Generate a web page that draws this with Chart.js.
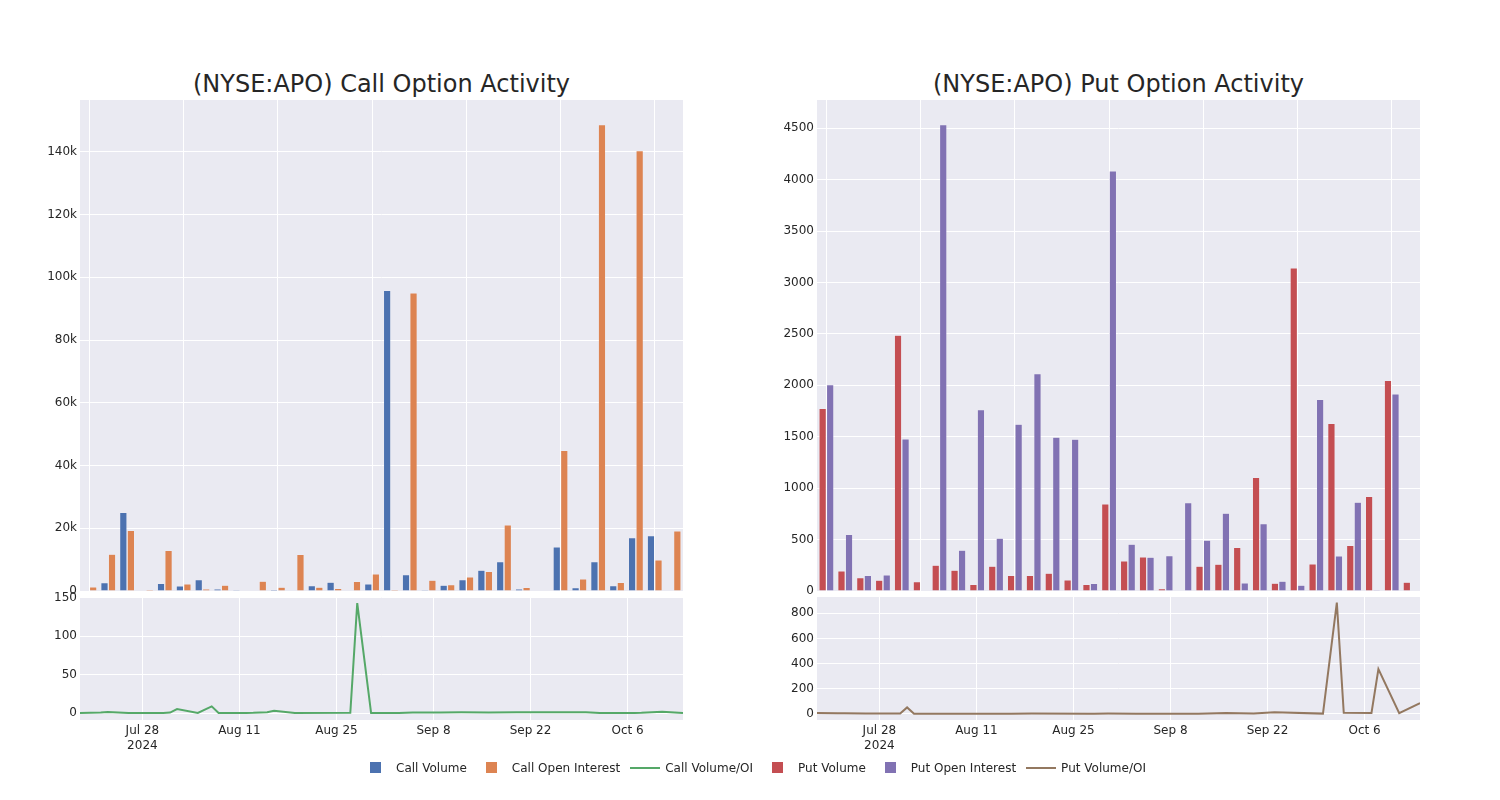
<!DOCTYPE html>
<html>
<head>
<meta charset="utf-8">
<title>(NYSE:APO) Option Activity</title>
<script src="https://cdn.jsdelivr.net/npm/chart.js@4.4.1/dist/chart.umd.min.js"></script>
<style>
  body { margin: 0; background: #fff; font-family: "DejaVu Sans", sans-serif; }
  #page { position: relative; width: 1500px; height: 800px; overflow: hidden; }
  canvas { position: absolute; }
  .title { position: absolute; top: 68px; width: 603px; text-align: center; font-size: 24px; line-height: 32px; color: #262626; }
  #legend { position: absolute; top: 759px; left: 356px; display: flex; font-size: 12px; color: #262626; line-height: 18px; }
  .item { display: flex; align-items: center; margin-right: 5px; }
  .sym { position: relative; width: 40px; height: 18px; }
  .sq { position: absolute; left: 14px; top: 3px; width: 11px; height: 11px; }
  .ln { position: absolute; left: 5px; top: 8px; width: 30px; height: 2px; }
</style>
</head>
<body>
<div id="page">
  <div class="title" style="left:80px">(NYSE:APO) Call Option Activity</div>
  <div class="title" style="left:817px">(NYSE:APO) Put Option Activity</div>
  <canvas id="callBars" width="700" height="519" style="left:0;top:86px"></canvas>
  <canvas id="callLine" width="700" height="177" style="left:0;top:583px"></canvas>
  <canvas id="putBars" width="700" height="519" style="left:737px;top:86px"></canvas>
  <canvas id="putLine" width="700" height="177" style="left:737px;top:583px"></canvas>
  <div id="legend"></div>
</div>
<script>
// Data
const dates = [
  '2024-07-19', '2024-07-22', '2024-07-23', '2024-07-26', '2024-07-31', '2024-08-01', '2024-08-02', '2024-08-05',
  '2024-08-07', '2024-08-08', '2024-08-12', '2024-08-13', '2024-08-15', '2024-08-16', '2024-08-19', '2024-08-27',
  '2024-08-28', '2024-08-30', '2024-09-03', '2024-09-05', '2024-09-09', '2024-09-12', '2024-09-16', '2024-09-20',
  '2024-09-23', '2024-09-30', '2024-10-02', '2024-10-03', '2024-10-07', '2024-10-08', '2024-10-11', '2024-10-14'
];

const callVolume = [100, 2600, 25000, 0, 2400, 1600, 3600, 600, 300, 0, 500, 200, 1700, 2800, 100, 2200,
  95800, 5200, 300, 1800, 3600, 6600, 9300, 600, 200, 14000, 1000, 9300, 1700, 17000, 17600, 100];
const callOpenInterest = [1300, 11700, 19300, 400, 12900, 2200, 600, 1800, 0, 3100, 1200, 11600, 1200, 800, 3000, 5400,
  500, 95000, 3400, 2000, 4500, 6200, 21000, 1100, 100, 44800, 3800, 148600, 2700, 140300, 9900, 19100];
const callVolumeOI = [0, 0.8, 1.5, 0, 0.2, 0.6, 5.2, 0.2, 8.7, 0, 0.1, 0.3, 1.2, 3, 0, 0.3,
  143, 0.1, 0.1, 0.9, 0.8, 1.0, 0.9, 1.0, 1.1, 1.0, 0.1, 0.1, 0.1, 0.3, 1.8, 0];

const putVolume = [1775, 195, 130, 104, 2486, 91, 250, 202, 62, 241, 150, 150, 172, 107, 62, 845,
  292, 331, 23, 0, 240, 260, 422, 1104, 75, 3140, 263, 1630, 442, 919, 2047, 84];
const putOpenInterest = [2005, 549, 150, 156, 1479, 0, 4534, 397, 1762, 514, 1622, 2113, 1495, 1475, 72, 4085,
  455, 328, 344, 858, 494, 757, 78, 653, 94, 55, 1862, 341, 864, 10, 1917, 0];
const putVolumeOI = [6, 4, 3, 1, 1, 50, 0.1, 0.5, 0.1, 0.5, 0.1, 0.1, 0.1, 0.1, 0.9, 0.2,
  0.6, 1, 0.1, 0, 0.5, 0.3, 5.4, 1, 12, 0.8, 885, 8, 6, 355, 5, 85];

const callBarTicks = [0, 20000, 40000, 60000, 80000, 100000, 120000, 140000];
const putBarTicks = [0, 500, 1000, 1500, 2000, 2500, 3000, 3500, 4000, 4500];
const callLineTicks = [0, 50, 100, 150];
const putLineTicks = [0, 200, 400, 600, 800];
const dateTicks = ['2024-07-28', '2024-08-11', '2024-08-25', '2024-09-08', '2024-09-22', '2024-10-06'];
const dateTickLabels = [['Jul 28', '2024'], 'Aug 11', 'Aug 25', 'Sep 8', 'Sep 22', 'Oct 6'];

const colors = {
  callVolume: '#4c72b0', callOI: '#dd8452', callRatio: '#55a868',
  putVolume: '#c44e52', putOI: '#8172b3', putRatio: '#937860'
};

Chart.defaults.font.family = '"DejaVu Sans", sans-serif';
Chart.defaults.font.size = 12;
Chart.defaults.color = '#262626';
Chart.defaults.animation = false;

const startDay = Date.parse(dates[0]);
const dayOf = d => (Date.parse(d) - startDay) / 86400000;
const lastDay = dayOf(dates[dates.length - 1]);

// paint the grey plot area like the plotly template
const plotBg = {
  id: 'plotBg',
  beforeDraw(chart) {
    const { ctx, chartArea: a } = chart;
    ctx.save();
    ctx.fillStyle = '#eaeaf2';
    ctx.fillRect(a.left, a.top, a.right - a.left, a.bottom - a.top);
    ctx.restore();
  }
};

function yAxis(max, min, tickValues, fmt) {
  return {
    min: min, max: max,
    afterFit: s => { s.width = 80; },
    afterBuildTicks: s => { s.ticks = tickValues.map(v => ({ value: v })); },
    grid: { color: '#ffffff', lineWidth: 1, drawTicks: false },
    border: { display: false },
    ticks: { padding: 3, callback: fmt }
  };
}

function barChart(id, labels, a, b, colA, colB, yMax, tickValues, fmt) {
  return new Chart(document.getElementById(id), {
    type: 'bar',
    data: {
      labels: labels,
      datasets: [
        { data: a, backgroundColor: colA, borderColor: 'rgba(255,255,255,0.35)', borderWidth: 0.5 },
        { data: b, backgroundColor: colB, borderColor: 'rgba(255,255,255,0.35)', borderWidth: 0.5 }
      ]
    },
    options: {
      responsive: false,
      layout: { padding: { top: 14, bottom: 14, left: 0, right: 17 } },
      categoryPercentage: 0.8,
      barPercentage: 0.96,
      plugins: { legend: { display: false }, tooltip: { enabled: false } },
      scales: {
        x: {
          afterBuildTicks: s => { s.ticks = s.ticks.filter(t => t.value % 5 === 0); },
          grid: { color: '#ffffff', lineWidth: 1, offset: false, drawTicks: false },
          border: { display: false },
          ticks: { display: false }
        },
        y: yAxis(yMax, 0, tickValues, fmt)
      }
    },
    plugins: [plotBg]
  });
}

function lineChart(id, values, color, yMin, yMax, tickValues) {
  return new Chart(document.getElementById(id), {
    type: 'line',
    data: {
      datasets: [{
        data: dates.map((d, i) => ({ x: dayOf(d), y: values[i] })),
        borderColor: color, borderWidth: 2, pointRadius: 0, tension: 0, fill: false
      }]
    },
    options: {
      responsive: false,
      layout: { padding: { top: 14, bottom: 0, left: 0, right: 17 } },
      plugins: { legend: { display: false }, tooltip: { enabled: false } },
      scales: {
        x: {
          type: 'linear', min: 0, max: lastDay,
          afterFit: s => { s.height = 40; },
          afterBuildTicks: s => { s.ticks = dateTicks.map(d => ({ value: dayOf(d) })); },
          grid: { color: '#ffffff', lineWidth: 1, drawTicks: false },
          border: { display: false },
          ticks: { padding: 4, maxRotation: 0, autoSkip: false, callback: (v, i) => dateTickLabels[i] }
        },
        y: yAxis(yMax, yMin, tickValues, v => v)
      }
    },
    plugins: [plotBg]
  });
}

const kFmt = v => v === 0 ? '0' : (v / 1000) + 'k';

barChart('callBars', dates, callVolume, callOpenInterest, colors.callVolume, colors.callOI, 156500, callBarTicks, kFmt);
barChart('putBars', dates, putVolume, putOpenInterest, colors.putVolume, colors.putOI, 4775, putBarTicks, v => v);
lineChart('callLine', callVolumeOI, colors.callRatio, -9, 151, callLineTicks);
lineChart('putLine', putVolumeOI, colors.putRatio, -50, 930, putLineTicks);

// shared legend under both panels
const legendItems = [
  ['Call Volume', colors.callVolume, 'sq'], ['Call Open Interest', colors.callOI, 'sq'], ['Call Volume/OI', colors.callRatio, 'ln'],
  ['Put Volume', colors.putVolume, 'sq'], ['Put Open Interest', colors.putOI, 'sq'], ['Put Volume/OI', colors.putRatio, 'ln']
];
const legend = document.getElementById('legend');
legendItems.forEach(([label, color, kind]) => {
  const item = document.createElement('div');
  item.className = 'item';
  item.innerHTML = '<span class="sym"><span class="' + kind + '" style="background:' + color + '"></span></span><span>' + label + '</span>';
  legend.appendChild(item);
});
</script>
</body>
</html>
